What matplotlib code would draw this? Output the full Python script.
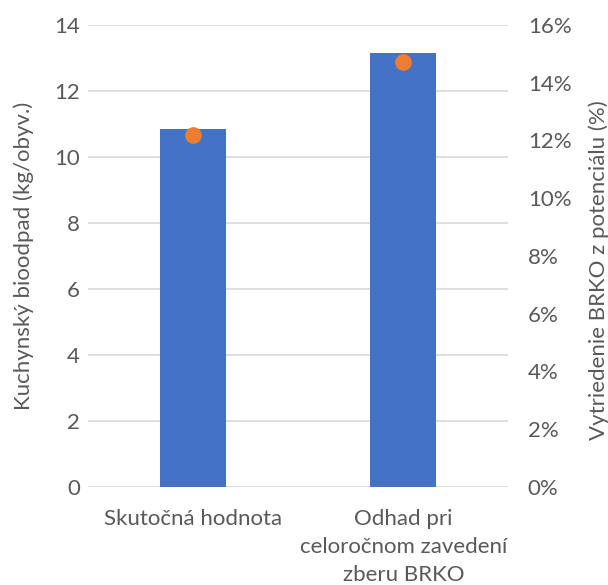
import matplotlib
matplotlib.use('Agg')
import matplotlib.pyplot as plt
from matplotlib.ticker import FuncFormatter

# data
kategorie = ['Skutočná hodnota', 'Odhad pri\nceloročnom zavedení\nzberu BRKO']
bioodpad = [10.85, 13.15]
vytriedenie = [12.2, 14.7]

plt.rcParams['font.family'] = ['Lato', 'DejaVu Sans']
sedy = '#595959'
fs = 16

fig = plt.figure(figsize=(6.08, 5.85), dpi=100)
ax = fig.add_axes([0.145, 0.1675, 0.691, 0.79])
ax2 = ax.twinx()

x = range(len(kategorie))
ax.bar(x, bioodpad, width=0.315, color='#4472C4', zorder=3)
ax2.plot(x, vytriedenie, 'o', color='#ED7D31', markersize=11, zorder=4, linestyle='none')

ax.set_xlim(-0.5, 1.5)
ax.set_ylim(0, 14)
ax.set_yticks(range(0, 15, 2))
ax2.set_ylim(0, 16)
ax2.set_yticks(range(0, 17, 2))
ax2.yaxis.set_major_formatter(FuncFormatter(lambda v, p: '%d%%' % v))

ax.set_xticks(list(x))
ax.set_xticklabels(kategorie, fontsize=fs, color=sedy, linespacing=1.5)

ax.grid(axis='y', color='#D9D9D9', linewidth=1.2, zorder=0)
for a in (ax, ax2):
    for s in a.spines.values():
        s.set_visible(False)
    a.tick_params(length=0, labelsize=fs, labelcolor=sedy)
ax.tick_params(axis='y', pad=6)
ax2.tick_params(axis='y', pad=14)
ax.tick_params(axis='x', pad=16)

ax.set_ylabel('Kuchynský bioodpad (kg/obyv.)', fontsize=fs, color=sedy)
ax2.set_ylabel('Vytriedenie BRKO z potenciálu (%)', fontsize=fs, color=sedy)
ax.yaxis.set_label_coords(-0.13, 0.5)
ax2.yaxis.set_label_coords(1.19, 0.47)

ax.set_zorder(ax2.get_zorder() - 1)
ax.patch.set_visible(True)
ax2.patch.set_visible(False)

fig.savefig('out.png', dpi=100)
